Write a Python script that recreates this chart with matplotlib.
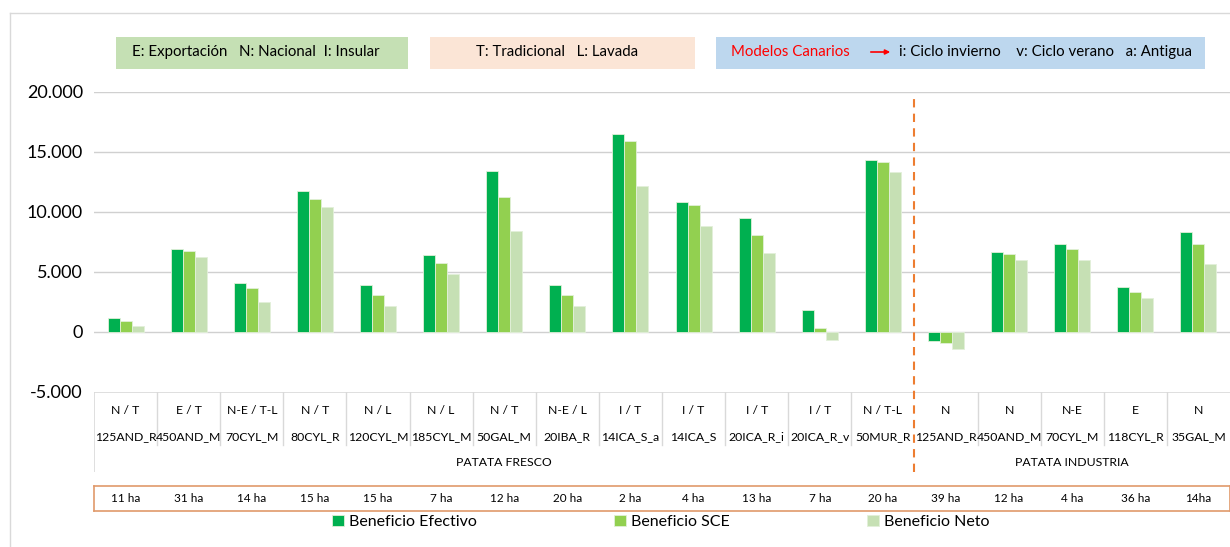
import matplotlib.pyplot as plt
import matplotlib.patches as mpatches
from matplotlib.lines import Line2D
import numpy as np

plt.rcParams['font.family'] = ['Lato', 'DejaVu Sans']

# --- data ---
models = ['125AND_R', '450AND_M', '70CYL_M', '80CYL_R', '120CYL_M', '185CYL_M',
          '50GAL_M', '20IBA_R', '14ICA_S_a', '14ICA_S', '20ICA_R_i', '20ICA_R_v',
          '50MUR_R', '125AND_R', '450AND_M', '70CYL_M', '118CYL_R', '35GAL_M']
types = ['N / T', 'E / T', 'N-E / T-L', 'N / T', 'N / L', 'N / L', 'N / T', 'N-E / L',
         'I / T', 'I / T', 'I / T', 'I / T', 'N / T-L', 'N', 'N', 'N-E', 'E', 'N']
groups = ['PATATA FRESCO', 'PATATA INDUSTRIA']
group_sizes = [13, 5]
areas = ['11 ha', '31 ha', '14 ha', '15 ha', '15 ha', '7 ha', '12 ha', '20 ha', '2 ha',
         '4 ha', '13 ha', '7 ha', '20 ha', '39 ha', '12 ha', '4 ha', '36 ha', '14ha']

ben_efectivo = [1150, 6950, 4100, 11750, 3950, 6400, 13400, 3950, 16500, 10800,
                9500, 1800, 14350, -750, 6650, 7350, 3750, 8300]
ben_sce = [950, 6750, 3650, 11050, 3100, 5750, 11250, 3100, 15950, 10550,
           8050, 350, 14150, -950, 6500, 6950, 3350, 7300]
ben_neto = [500, 6250, 2500, 10450, 2150, 4800, 8450, 2150, 12200, 8850,
            6600, -700, 13350, -1400, 6000, 6000, 2800, 5650]

series = [('Beneficio Efectivo', ben_efectivo, '#00B050'),
          ('Beneficio SCE', ben_sce, '#92D050'),
          ('Beneficio Neto', ben_neto, '#C6E0B4')]

W, H = 1230, 547
fig = plt.figure(figsize=(W / 100, H / 100), dpi=100)


def fx(px):
    return px / W


def fy(py):
    return 1 - py / H


# outer chart frame
fig.add_artist(Line2D([fx(10), fx(10)], [fy(13), 0], color='#D9D9D9', lw=1))
fig.add_artist(Line2D([fx(10), 1], [fy(13), fy(13)], color='#D9D9D9', lw=1))

# main axes
left, right = 94, 1230
ax = fig.add_axes([fx(left), fy(392), fx(right - left), (392 - 92) / H])
x = np.arange(len(models))
bw = 0.19
for i, (name, vals, col) in enumerate(series):
    ax.bar(x + (i - 1) * bw, vals, bw, color=col, edgecolor='#E2F0D9',
           linewidth=0.6, label=name, zorder=3)

ax.set_xlim(-0.5, len(models) - 0.5)
ax.set_ylim(-5000, 20000)
ax.set_yticks([-5000, 0, 5000, 10000, 15000, 20000])
ax.set_yticklabels(['-5.000', '0', '5.000', '10.000', '15.000', '20.000'], fontsize=13)
ax.tick_params(axis='y', length=0, pad=8)
ax.set_xticks([])
for v in [0, 5000, 10000, 15000, 20000]:
    ax.axhline(v, color='#D0D0D0', lw=1, zorder=1)
for s in ax.spines.values():
    s.set_visible(False)

# table of category labels below the axes
tab = fig.add_axes([fx(left), fy(472), fx(right - left), 80 / H])
tab.set_xlim(-0.5, len(models) - 0.5)
tab.set_ylim(80, 0)
tab.axis('off')
tab.plot([-0.5, len(models) - 0.5], [0, 0], color='#D9D9D9', lw=1.2)
tab.plot([-0.5, -0.5], [0, 80], color='#D9D9D9', lw=1.2)
for k in range(1, len(models)):
    if k == group_sizes[0]:
        continue
    tab.plot([k - 0.5, k - 0.5], [0, 53], color='#D9D9D9', lw=1)
for k in range(len(models)):
    tab.text(k, 18, types[k], ha='center', va='center', fontsize=8.8)
    tab.text(k, 45, models[k], ha='center', va='center', fontsize=8.8)
start = 0
for g, n in zip(groups, group_sizes):
    tab.text(start + n / 2 - 0.5, 71, g, ha='center', va='center', fontsize=8.8)
    start += n

# dashed separator between groups
sep = fig.add_axes([fx(left), fy(472), fx(right - left), (472 - 97) / H])
sep.set_xlim(-0.5, len(models) - 0.5)
sep.set_ylim(0, 1)
sep.axis('off')
sep.plot([group_sizes[0] - 0.5] * 2, [0, 1], color='#ED7D31', lw=1.5,
         ls=(0, (4, 3)))

# area row box
hab = fig.add_axes([fx(left), fy(511), fx(right - left), 25 / H])
hab.set_xlim(-0.5, len(models) - 0.5)
hab.set_ylim(0, 1)
hab.set_xticks([])
hab.set_yticks([])
for s in hab.spines.values():
    s.set_color('#E09A6B')
    s.set_linewidth(1.2)
for k, a in enumerate(areas):
    hab.text(k, 0.5, a, ha='center', va='center', fontsize=8.5)

# legend
handles, labels = ax.get_legend_handles_labels()
fig.legend(handles, labels, loc='center', bbox_to_anchor=(fx(661), fy(522)),
           ncol=3, frameon=False, fontsize=11.5, handlelength=0.75, handleheight=0.75,
           handletextpad=0.3, columnspacing=8.6)

# top info boxes
boxes = [(116, 408, '#C5E0B4'), (430, 695, '#FBE5D6'), (716, 1205, '#BDD7EE')]
for x0, x1, col in boxes:
    fig.add_artist(mpatches.Rectangle((fx(x0), fy(69)), fx(x1 - x0), 32 / H,
                                      color=col, lw=0))
fig.text(fx(256), fy(52), 'E: Exportación   N: Nacional  I: Insular',
         ha='center', va='center', fontsize=10.8)
fig.text(fx(557), fy(52), 'T: Tradicional   L: Lavada',
         ha='center', va='center', fontsize=10.8)
fig.text(fx(731), fy(52), 'Modelos Canarios', ha='left', va='center',
         fontsize=10.8, color='#FF0000')
fig.add_artist(mpatches.FancyArrowPatch((fx(868), fy(52)), (fx(893), fy(52)),
                                        arrowstyle='-|>', mutation_scale=7,
                                        color='#FF0000', lw=1.2))
fig.text(fx(899), fy(52), 'i: Ciclo invierno    v: Ciclo verano   a: Antigua',
         ha='left', va='center', fontsize=10.8)

fig.savefig('out.png', dpi=100)
